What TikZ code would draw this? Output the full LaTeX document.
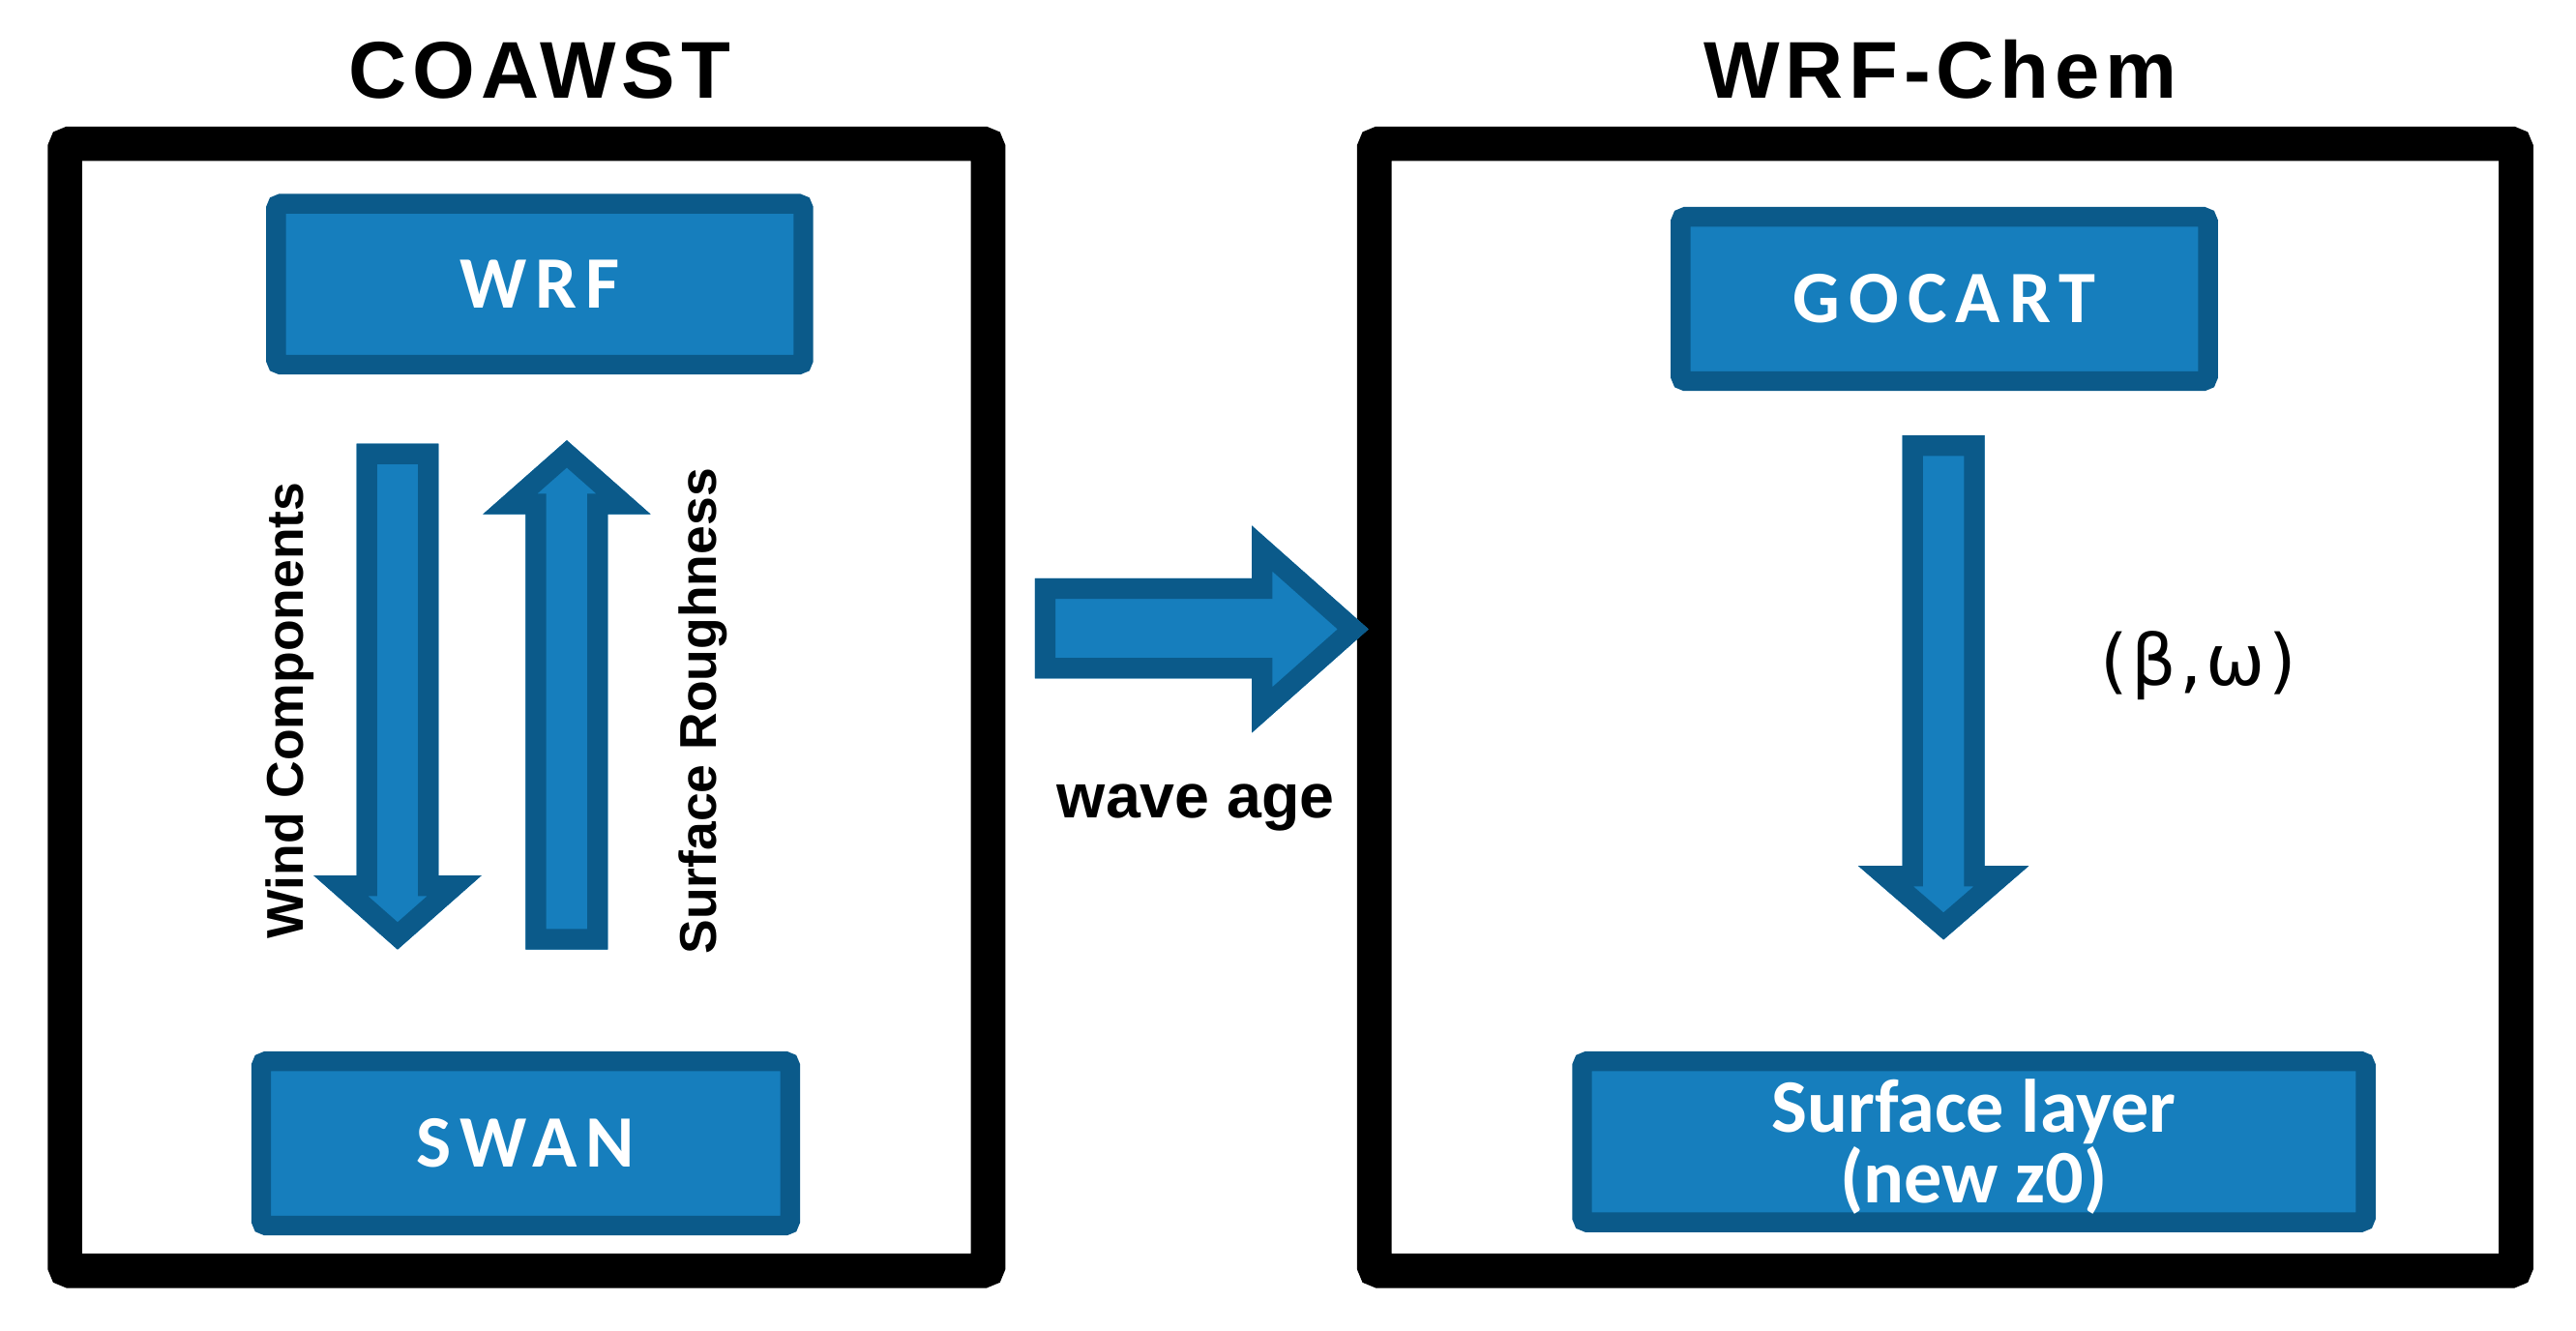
\documentclass[tikz,border=0pt]{standalone}
\usepackage{fontspec}
\setmainfont{Liberation Sans}
\newfontfamily\ttlfont[LetterSpace=7]{Liberation Sans}
\newfontfamily\boxfont[LetterSpace=12]{Carlito}
\newfontfamily\boxplain{Carlito}
\newfontfamily\greekfont[LetterSpace=5]{DejaVu Sans}
\definecolor{lightb}{RGB}{22,126,189}
\definecolor{darkb}{RGB}{11,90,138}
\newcommand\blockarrow[1]{%
  \fill[lightb] #1;
  \begin{scope}
    \clip #1;
    \draw[darkb, line width=25pt, line join=miter] #1;
  \end{scope}}
\tikzset{
  frame/.style={draw=black, line width=21pt, rounded corners=3pt},
  model/.style={draw=darkb, fill=lightb, line width=12pt, rounded corners=3pt,
    inner sep=0pt, text=white, align=center},
  title/.style={font=\ttlfont\bfseries\fontsize{49}{54}\selectfont, anchor=base},
  side/.style={font=\bfseries\fontsize{31.5}{36}\selectfont, rotate=90, anchor=base},
  boxlbl/.style={font=\boxfont\bfseries\fontsize{45}{48}\selectfont},
}
\begin{document}
\begin{tikzpicture}[x=1pt, y=-1pt]
\useasboundingbox (0,0) rectangle (1568,810);
% outer frames
\draw[frame] (39.5,87.5) rectangle (601.5,773.5);
\draw[frame] (836.5,87.5) rectangle (1531.5,773.5);
% titles
\node[title] (coawst) at (328.5,60) {COAWST};
\node[title] (wrfchem) at (1181,60) {WRF-Chem};
% model boxes
\node[model, boxlbl, minimum width=321pt, minimum height=98pt] (wrf) at (328.5,173) {WRF};
\node[model, boxlbl, minimum width=322pt, minimum height=100pt] (swan) at (320,696) {SWAN};
\node[model, boxlbl, minimum width=321pt, minimum height=100pt] (gocart) at (1183.5,182) {GOCART};
\node[model, minimum width=477pt, minimum height=98pt,
  font=\boxplain\bfseries\fontsize{46}{43}\selectfont] (sfc) at (1201.5,695) {\parbox{460pt}{\centering\vspace*{6pt}Surface layer\\(new z0)}};
% block arrows
\blockarrow{(217,270) -- (267,270) -- (267,533) -- (293,533) -- (242,578) -- (191,533) -- (217,533) -- cycle}
\blockarrow{(320,578) -- (370,578) -- (370,313) -- (396,313) -- (345,268) -- (294,313) -- (320,313) -- cycle}
\blockarrow{(630,352) -- (762,352) -- (762,320) -- (833,383) -- (762,446) -- (762,413) -- (630,413) -- cycle}
\blockarrow{(1158,265) -- (1208,265) -- (1208,527) -- (1235,527) -- (1183,572) -- (1131,527) -- (1158,527) -- cycle}
% labels
\node[side] (windlbl) at (184.5,432.5) {Wind Components};
\node[side] (roughlbl) at (436,433) {Surface Roughness};
\node[font=\bfseries\fontsize{38}{42}\selectfont, anchor=base] (wavelbl) at (728,498) {wave age};
\node[font=\greekfont\fontsize{43}{46}\selectfont, anchor=base] (betalbl) at (1338,417) {(β,ω)};
\end{tikzpicture}
\end{document}
